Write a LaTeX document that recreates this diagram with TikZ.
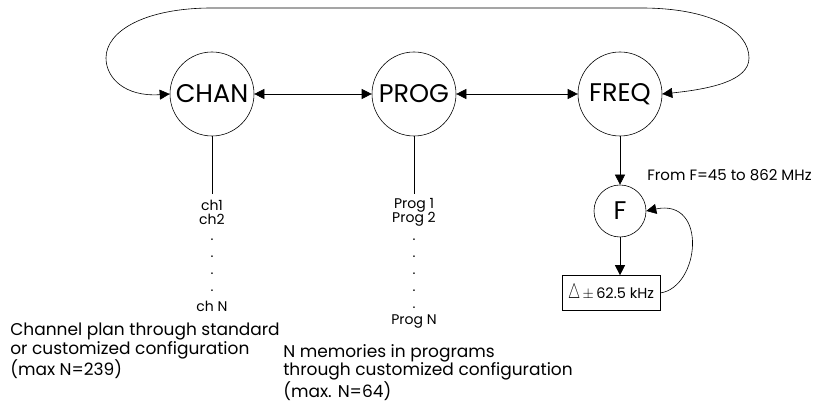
\documentclass[tikz,border=0pt]{standalone}
\usepackage{fontspec}
\setmainfont{Poppins}
\usetikzlibrary{arrows.meta}
\begin{document}
\begin{tikzpicture}[x=1pt,y=1pt,
  tri/.tip={Triangle[length=10pt,width=10pt]},
  bigc/.style={draw,circle,minimum size=84pt,inner sep=0pt,font=\fontsize{25.5}{26}\selectfont},
  smallc/.style={draw,circle,minimum size=52pt,inner sep=0pt,font=\fontsize{25.5}{26}\selectfont},
  small/.style={font=\fontsize{14}{14}\selectfont,inner sep=0pt},
  dotl/.style={font=\fontsize{14}{14}\selectfont,inner sep=0pt,anchor=base},
  desc/.style={font=\fontsize{17}{17}\selectfont,align=left,anchor=north west,inner sep=0pt},
  line width=0.6pt]
\useasboundingbox (0,0) rectangle (840,403);
\node[bigc] (CHAN) at (212,309) {CHAN};
\node[bigc] (PROG) at (414,309) {PROG};
\node[bigc] (FREQ) at (620,309) {FREQ};
\coordinate (tl) at (212,395);
\coordinate (tr) at (641,395);
\draw[tri-tri] (CHAN.west) .. controls (125,306) and (106,325) .. (106,345)
  .. controls (106,372) and (145,395) .. (tl) -- (tr)
  .. controls (712,395) and (749,372) .. (749,345)
  .. controls (749,322) and (710,314) .. (FREQ.east);
\draw[tri-tri] (CHAN) -- (PROG);
\draw[tri-tri] (PROG) -- (FREQ);
\coordinate (cl) at (212,209);
\coordinate (pl) at (414,209);
\draw (CHAN.south) -- (cl);
\draw (PROG.south) -- (pl);
% channel list
\node[small] (ch1) at (212,198) {ch1};
\node[small] (ch2) at (212,184) {ch2};
\foreach \y [count=\i] in {162,145,128,111} \node[dotl] (cd\i) at (212,\y) {.};
\node[small] (chN) at (212,97) {ch N};
% prog list
\node[small] (p1) at (414,198) {Prog 1};
\node[small] (p2) at (414,184) {Prog 2};
\foreach \y [count=\i] in {162,145,128,111,94} \node[dotl] (pd\i) at (414,\y) {.};
\node[small] (pN) at (414,81) {Prog N};
% F branch
\node[smallc] (F) at (620,192) {F};
\draw[-tri] (FREQ.south) -- (F.north);
\node[font=\fontsize{15}{17}\selectfont,anchor=west,inner sep=0pt] (from) at (647,228) {From F=45 to 862 MHz};
\node[draw,minimum width=98pt,minimum height=35pt,inner sep=2pt,font=\fontsize{14.5}{16}\selectfont] (box) at (611,110) {\scalebox{0.95}[1.45]{$\triangle$}\,$\pm$\,62.5 kHz};
\draw[-tri] (F.south) -- (F.south |- box.north);
\draw[-tri] (box.east) .. controls (700,116) and (708,205) .. (F.east);
% descriptions
\node[desc] (d1) at (10,80) {Channel plan through standard\\or customized configuration\\(max N=239)};
\node[desc] (d2) at (283,59) {N memories in programs\\through customized configuration\\(max. N=64)};
\end{tikzpicture}
\end{document}
